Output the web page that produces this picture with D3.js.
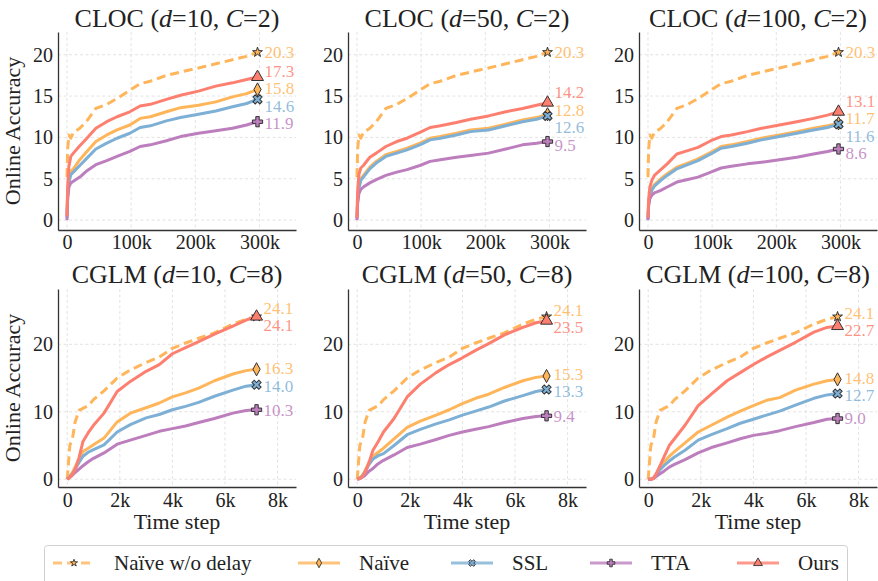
<!DOCTYPE html>
<html><head><meta charset="utf-8">
<script src="https://cdn.jsdelivr.net/npm/d3@7"></script>
<style>body{margin:0;background:#fff}svg{display:block}svg text{font-family:"Liberation Serif","DejaVu Serif",serif}</style>
</head><body><svg id="c" width="878" height="581"></svg>
<script>
// ---------------- data ----------------
const seriesNames = ["Naïve w/o delay", "Naïve", "SSL", "TTA", "Ours"];

const clocSteps = [0,1000,3000,6000,10000,20000,30000,45000,62000,78000,98000,114000,130000,155000,177000,205000,232000,258000,280000,297000];
const cglmSteps = [0,100,200,300,450,600,800,1000,1400,1900,2400,3000,3500,4000,4500,5000,5600,6300,6800,7200];

// no-delay baselines (shared across delays)
const clocNoDelay = [5.2,8.5,10.3,9.9,10.6,11.1,11.9,13.5,14.0,14.7,15.7,16.5,16.8,17.5,17.9,18.4,18.9,19.4,19.8,20.3];
const cglmNoDelay = [0,5.0,6.0,8.5,10.2,10.5,10.9,11.8,13.1,15.0,16.2,17.3,18.1,19.4,20.2,20.9,21.7,23.0,23.7,24.1];

// CLOC d=10
const clocD10Naive = [0.5,3.0,5.0,5.9,6.2,7.3,8.2,9.5,10.3,10.9,11.5,12.3,12.5,13.1,13.6,13.9,14.3,14.9,15.3,15.8];
const clocD10SSL   = [0.3,2.8,4.6,5.5,5.8,6.6,7.4,8.6,9.3,9.9,10.5,11.2,11.4,12.0,12.4,12.8,13.2,13.7,14.1,14.6];
const clocD10TTA   = [0,2.5,4.0,4.5,4.7,5.2,5.9,6.7,7.2,7.7,8.3,8.9,9.1,9.6,10.1,10.5,10.8,11.1,11.5,11.9];
const clocD10Ours  = [0.5,4.0,6.5,7.7,8.1,9.0,9.8,11.1,11.9,12.5,13.1,13.8,14.0,14.6,15.1,15.6,16.2,16.6,17.0,17.3];
// CLOC d=50
const clocD50Naive = [0.3,2.5,4.0,5.0,5.4,6.4,7.1,7.9,8.3,8.7,9.3,9.9,10.1,10.5,10.9,11.1,11.6,12.1,12.4,12.8];
const clocD50SSL   = [0.2,2.3,3.8,4.8,5.2,6.2,6.9,7.7,8.1,8.5,9.1,9.7,9.9,10.3,10.7,10.9,11.4,11.9,12.2,12.6];
const clocD50TTA   = [0,2.0,3.2,3.7,4.0,4.5,4.9,5.4,5.8,6.1,6.6,7.1,7.3,7.6,7.8,8.1,8.6,9.1,9.3,9.5];
const clocD50Ours  = [0.3,3.5,5.5,6.3,6.6,7.6,8.1,8.9,9.5,9.9,10.6,11.2,11.4,11.8,12.2,12.6,13.1,13.5,13.9,14.2];
// CLOC d=100
const clocD100Naive = [0.2,2.0,3.0,3.8,4.3,5.0,5.6,6.4,6.9,7.4,8.2,8.9,9.1,9.5,9.9,10.3,10.7,11.1,11.4,11.7];
const clocD100SSL   = [0.1,1.8,2.8,3.6,4.1,4.8,5.4,6.2,6.7,7.2,8.0,8.7,8.9,9.3,9.7,10.1,10.5,10.9,11.2,11.6];
const clocD100TTA   = [0,1.8,2.6,3.0,3.3,3.6,4.0,4.6,4.9,5.2,5.8,6.3,6.5,6.8,7.0,7.3,7.6,8.0,8.3,8.6];
const clocD100Ours  = [0.3,2.5,4.0,4.8,5.4,6.1,6.8,8.0,8.4,8.8,9.6,10.1,10.3,10.7,11.1,11.5,11.9,12.3,12.7,13.1];
// CGLM d=10
const cglmD10Naive = [0,0.5,1.0,1.8,3.0,4.1,4.6,5.1,6.1,8.5,9.8,10.6,11.3,12.2,12.8,13.5,14.6,15.6,16.1,16.3];
const cglmD10SSL   = [0,0.4,0.8,1.5,2.5,3.4,4.0,4.4,5.1,7.0,8.1,9.1,9.6,10.3,10.8,11.4,12.3,13.2,13.8,14.0];
const cglmD10TTA   = [0,0.3,0.6,1.0,1.5,2.0,2.6,3.1,3.9,5.2,5.8,6.5,7.1,7.5,7.9,8.4,9.0,9.8,10.2,10.3];
const cglmD10Ours  = [0,0.3,0.7,1.4,3.2,5.6,6.9,8.0,9.8,13.0,14.5,16.0,17.0,18.6,19.5,20.4,21.5,22.7,23.6,24.1];
// CGLM d=50
const cglmD50Naive = [0,0.2,0.6,1.3,2.5,3.4,4.0,4.6,6.0,7.7,8.6,9.5,10.3,11.2,12.0,12.6,13.6,14.6,15.1,15.3];
const cglmD50SSL   = [0,0.2,0.5,1.1,2.2,3.0,3.5,3.8,5.0,6.6,7.4,8.2,8.8,9.5,10.1,10.7,11.6,12.4,13.0,13.3];
const cglmD50TTA   = [0,0.1,0.3,0.6,1.2,1.6,2.3,2.8,3.6,4.7,5.2,5.9,6.5,7.0,7.4,7.8,8.4,9.0,9.3,9.4];
const cglmD50Ours  = [0,0.1,0.4,1.0,2.5,4.3,5.6,7.0,9.0,12.2,14.1,15.8,17.0,18.0,19.1,20.1,21.4,22.5,23.2,23.5];
// CGLM d=100
const cglmD100Naive = [0,0,0.2,0.7,1.6,2.5,3.4,4.1,5.4,7.0,8.0,9.2,10.1,10.9,11.7,12.1,13.2,14.1,14.6,14.8];
const cglmD100SSL   = [0,0,0.2,0.6,1.4,2.0,2.7,3.3,4.3,5.8,6.6,7.5,8.3,8.9,9.5,10.1,11.0,12.0,12.5,12.7];
const cglmD100TTA   = [0,0,0.1,0.4,0.8,1.2,1.8,2.2,2.9,3.9,4.7,5.4,6.0,6.5,6.8,7.2,7.8,8.4,8.9,9.0];
const cglmD100Ours  = [0,0,0.1,0.8,2.0,3.3,5.0,6.0,8.0,10.9,12.6,14.6,15.8,17.0,18.1,19.1,20.3,21.8,22.5,22.7];

const clocXTicks = [0,100000,200000,300000];
const cglmXTicks = [0,2000,4000,6000,8000];
const clocYTicks = [0,5,10,15,20];
const cglmYTicks = [0,10,20];

const panels = [
  {ds:"CLOC", d:"10",  c:"2", xs:clocSteps, ys:[clocNoDelay, clocD10Naive, clocD10SSL, clocD10TTA, clocD10Ours]},
  {ds:"CLOC", d:"50",  c:"2", xs:clocSteps, ys:[clocNoDelay, clocD50Naive, clocD50SSL, clocD50TTA, clocD50Ours]},
  {ds:"CLOC", d:"100", c:"2", xs:clocSteps, ys:[clocNoDelay, clocD100Naive, clocD100SSL, clocD100TTA, clocD100Ours]},
  {ds:"CGLM", d:"10",  c:"8", xs:cglmSteps, ys:[cglmNoDelay, cglmD10Naive, cglmD10SSL, cglmD10TTA, cglmD10Ours]},
  {ds:"CGLM", d:"50",  c:"8", xs:cglmSteps, ys:[cglmNoDelay, cglmD50Naive, cglmD50SSL, cglmD50TTA, cglmD50Ours]},
  {ds:"CGLM", d:"100", c:"8", xs:cglmSteps, ys:[cglmNoDelay, cglmD100Naive, cglmD100SSL, cglmD100TTA, cglmD100Ours]},
];

// ---------------- style ----------------
const colors = ["#ffb55a","#ffb55a","#7eb0d5","#bd7ebe","#fd7f6f"];
const dashed = [true,false,false,false,false];

const svg = d3.select("#c");
const axW = 238, axH = 198;
const lefts = [58, 348, 639];
const tops = [32, 289];

function markerPath(i, big) {
  const k = big ? 1 : 0.72;
  if (i === 0) return d3.symbol(d3.symbolStar, (big ? 30 : 16))();
  if (i === 1) { const w = 3.6*k, h = 6.6*k; return `M0,${-h}L${w},0L0,${h}L${-w},0Z`; }
  if (i === 2) return d3.symbol(d3.symbolCross, big ? 52 : 28)();
  if (i === 3) return d3.symbol(d3.symbolCross, big ? 58 : 32)();
  return d3.symbol(d3.symbolTriangle, big ? 62 : 34)();
}
function markerRot(i){ return i === 2 ? 45 : 0; }

panels.forEach((p, pi) => {
  const row = Math.floor(pi / 3), col = pi % 3;
  const isCloc = row === 0;
  const g = svg.append("g").attr("transform", `translate(${lefts[col]},${tops[row]})`);
  const x = d3.scaleLinear().domain(isCloc ? [-14000, 357000] : [-350, 8700]).range([0, axW]);
  const y = d3.scaleLinear().domain(isCloc ? [-1.2, 22.75] : [-1.15, 28.2]).range([axH, 0]);
  const xt = isCloc ? clocXTicks : cglmXTicks;
  const yt = isCloc ? clocYTicks : cglmYTicks;
  const fmt = d => d === 0 ? "0" : (d/1000) + "k";

  // grid
  g.append("g").selectAll("line").data(xt).join("line")
    .attr("x1", d => x(d)).attr("x2", d => x(d)).attr("y1", 0).attr("y2", axH)
    .attr("stroke", "#dcdcdc").attr("stroke-width", 0.8).attr("stroke-dasharray", "3,2.5");
  g.append("g").selectAll("line").data(yt).join("line")
    .attr("y1", d => y(d)).attr("y2", d => y(d)).attr("x1", 0).attr("x2", axW)
    .attr("stroke", "#dcdcdc").attr("stroke-width", 0.8).attr("stroke-dasharray", "3,2.5");

  // axes
  const gx = g.append("g").attr("transform", `translate(0,${axH})`)
    .call(d3.axisBottom(x).tickValues(xt).tickFormat(fmt).tickSize(0).tickSizeOuter(0).tickPadding(isCloc ? 5 : 6));
  const gy = g.append("g")
    .call(d3.axisLeft(y).tickValues(yt).tickSize(0).tickSizeOuter(0).tickPadding(5));
  [gx, gy].forEach(a => {
    a.attr("font-family", null);
    a.select(".domain").attr("stroke", "#333").attr("stroke-width", 1.3);
    a.selectAll("text").attr("font-size", 20).attr("fill", "#222");
  });

  // lines
  const line = d3.line().x(d => x(d[0])).y(d => y(d[1]));
  p.ys.forEach((vals, si) => {
    const pts = p.xs.map((xv, k) => [xv, vals[k]]);
    g.append("path").datum(pts).attr("d", line)
      .attr("fill", "none").attr("stroke", colors[si]).attr("stroke-width", 3)
      .attr("stroke-linejoin", "round")
      .attr("stroke-dasharray", dashed[si] ? "9,5" : null);
  });

  // end markers
  const lastX = p.xs[p.xs.length - 1];
  p.ys.forEach((vals, si) => {
    const v = vals[vals.length - 1];
    g.append("path").attr("d", markerPath(si, true))
      .attr("transform", `translate(${x(lastX)},${y(v)}) rotate(${markerRot(si)})`)
      .attr("fill", colors[si]).attr("stroke", "#333").attr("stroke-width", 1);
  });

  // value labels with simple collision avoidance
  const items = p.ys.map((vals, si) => ({si, v: vals[vals.length - 1], y0: y(vals[vals.length - 1])}))
    .sort((a, b) => (a.y0 - b.y0) || (a.si - b.si));
  const gap = 17.5;
  let groups = items.map(it => ({members: [it]}));
  const place = grp => {
    const mean = d3.mean(grp.members, m => m.y0);
    const n = grp.members.length;
    grp.members.forEach((m, k) => m.y = mean + (k - (n - 1) / 2) * gap);
  };
  groups.forEach(place);
  let changed = true;
  while (changed) {
    changed = false;
    for (let k = 0; k < groups.length - 1; k++) {
      const a = groups[k], b = groups[k + 1];
      if (b.members[0].y - a.members[a.members.length - 1].y < gap - 0.01) {
        a.members = a.members.concat(b.members);
        groups.splice(k + 1, 1);
        place(a);
        changed = true;
        break;
      }
    }
  }
  items.forEach(it => {
    g.append("text").attr("x", x(lastX) + 7).attr("y", it.y).attr("dy", "0.35em")
      .attr("font-size", 17)
      .attr("fill", colors[it.si]).attr("fill-opacity", 0.85)
      .text(it.v.toFixed(1));
  });

  // title
  const t = g.append("text").attr("x", axW / 2).attr("y", isCloc ? -5 : -6)
    .attr("text-anchor", "middle").attr("font-size", 26).attr("fill", "#222");
  t.append("tspan").text(p.ds + " (");
  t.append("tspan").attr("font-style", "italic").text("d");
  t.append("tspan").text("=" + p.d + ", ");
  t.append("tspan").attr("font-style", "italic").text("C");
  t.append("tspan").text("=" + p.c + ")");

  if (col === 0) {
    g.append("text").attr("transform", `translate(-38,${axH / 2}) rotate(-90)`)
      .attr("text-anchor", "middle").attr("font-size", 22).attr("fill", "#222")
      .text("Online Accuracy");
  }
  if (row === 1) {
    g.append("text").attr("x", axW / 2).attr("y", axH + 42)
      .attr("text-anchor", "middle").attr("font-size", 22).attr("fill", "#222")
      .text("Time step");
  }
});

// ---------------- legend ----------------
const lg = svg.append("g");
lg.append("rect").attr("x", 44.5).attr("y", 545.5).attr("width", 803).attr("height", 50).attr("rx", 3)
  .attr("fill", "#fff").attr("stroke", "#d0d0d0").attr("stroke-width", 1);
const handleX = [53, 298, 451, 590, 737];
const legY = 563;
seriesNames.forEach((name, si) => {
  const hx = handleX[si];
  lg.append("line").attr("x1", hx).attr("x2", hx + 42).attr("y1", legY).attr("y2", legY)
    .attr("stroke", colors[si]).attr("stroke-width", 3).attr("stroke-opacity", 0.8)
    .attr("stroke-dasharray", dashed[si] ? "9,5" : null);
  lg.append("path").attr("d", markerPath(si, false))
    .attr("transform", `translate(${hx + 21},${legY}) rotate(${markerRot(si)})`)
    .attr("fill", colors[si]).attr("stroke", "#333").attr("stroke-width", 0.9);
  lg.append("text").attr("x", hx + 61).attr("y", legY).attr("dy", "0.35em")
    .attr("font-size", 21).attr("fill", "#222").text(name);
});
</script></body></html>
